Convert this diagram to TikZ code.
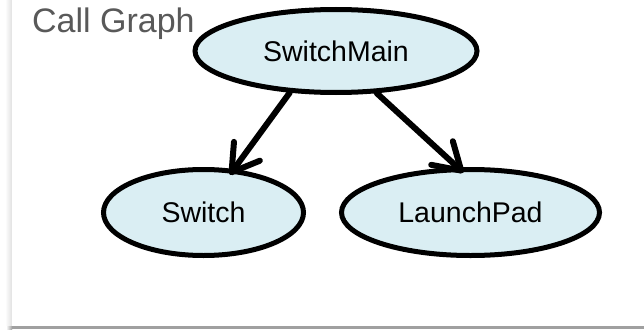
\documentclass[tikz,border=0pt]{standalone}
\usepackage{fontspec}
\setmainfont{Liberation Sans}
\usetikzlibrary{shapes.geometric,arrows.meta}

\definecolor{nodefill}{RGB}{218,238,243}
\definecolor{titlegrey}{RGB}{89,89,89}
\definecolor{shadowgrey}{RGB}{160,160,160}

\tikzset{
  fnode/.style={ellipse, draw=black, line width=5pt, fill=nodefill,
    inner sep=0pt, font=\fontsize{28.5}{30}\selectfont},
  callarrow/.style={line width=6pt, line cap=round,
    -{Straight Barb[length=26pt,width=32pt,round]}},
}

\begin{document}
\begin{tikzpicture}[x=1pt,y=-1pt]
  \useasboundingbox (0,0) rectangle (644,329);

  % slide panel with its soft shadow
  \shade[left color=white, right color=black!12] (5,0) rectangle (12,329);
  \fill[shadowgrey] (12,326) rectangle (644,329);
  \shade[left color=white, right color=shadowgrey] (6,326) rectangle (12,329);
  \fill[white] (12,0) rectangle (644,326);

  % title
  \node[anchor=base west, inner sep=0pt, text=titlegrey,
        font=\fontsize{34}{36}\selectfont] (title) at (32,33) {Call Graph};

  % functions
  \node[fnode, minimum width=282pt, minimum height=83pt] (main) at (336,51) {SwitchMain};
  \node[fnode, minimum width=200pt, minimum height=86pt] (sw) at (203.5,212.5) {Switch};
  \node[fnode, minimum width=258pt, minimum height=86pt] (lp) at (470.5,212.5) {LaunchPad};

  % calls
  \draw[callarrow, shorten >=-7pt] (main.222) -- (sw.55);
  \draw[callarrow, shorten >=-8pt] (main.314) -- (lp.106);
\end{tikzpicture}
\end{document}
